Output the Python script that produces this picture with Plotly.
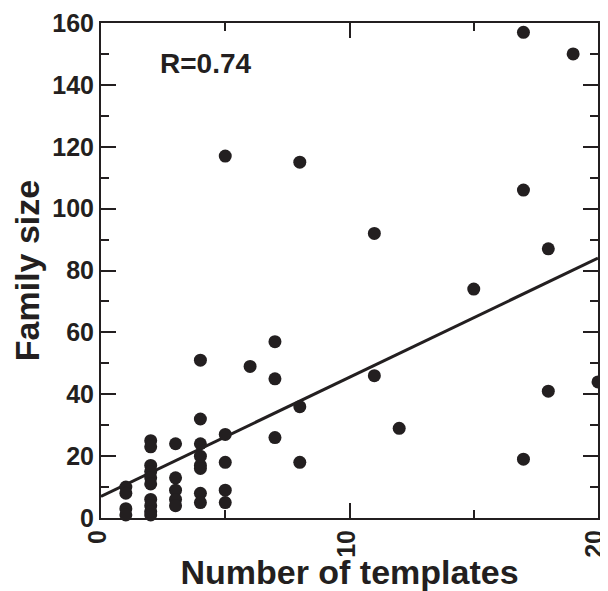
import plotly.graph_objects as go
import numpy as np

# number of templates per family (x) and family size (y)
templates = [1, 1, 1, 1,
             2, 2, 2, 2, 2, 2, 2, 2, 2, 2,
             3, 3, 3, 3, 3,
             4, 4, 4, 4, 4, 4, 4, 4,
             5, 5, 5, 5, 5,
             6, 7, 7, 7, 8, 8, 8,
             11, 11, 12, 15, 17, 17, 17, 18, 18, 19, 20]
family_size = [10, 8, 3, 1,
               25, 23, 17, 15, 13, 11, 6, 4, 2, 1,
               24, 13, 9, 6, 4,
               51, 32, 24, 20, 17, 8, 5, 16,
               117, 27, 18, 9, 5,
               49, 57, 45, 26, 115, 36, 18,
               92, 46, 29, 74, 157, 106, 19, 87, 41, 150, 44]

# regression line
fit_intercept = 7.0
fit_slope = 3.85
r_label = "R=0.74"

ink = "#231f20"
font_family = "Liberation Sans, Arial, Helvetica, sans-serif"

fit_x = np.array([0, 20])
fit_y = fit_intercept + fit_slope * fit_x

fig = go.Figure()
fig.add_trace(go.Scatter(x=fit_x, y=fit_y, mode="lines",
                         line=dict(color=ink, width=3), showlegend=False))
fig.add_trace(go.Scatter(x=templates, y=family_size, mode="markers",
                         marker=dict(color=ink, size=13, line=dict(width=0)),
                         cliponaxis=False, showlegend=False))

fig.add_annotation(x=4.2, y=147, text="<b>" + r_label + "</b>", showarrow=False,
                   font=dict(size=28, color=ink, family=font_family))

axis_common = dict(showgrid=False, zeroline=False, showline=True, linecolor=ink,
                   linewidth=2, mirror="ticks", ticks="inside", tickcolor=ink,
                   tickwidth=2, ticklen=15, automargin=False, ticklabeloverflow="allow",
                   tickfont=dict(size=25, color=ink, family=font_family))

fig.update_xaxes(range=[0, 20], dtick=10, tickangle=-90, ticklabelshift=-3,
                 minor=dict(dtick=5, ticks="inside", ticklen=8, tickcolor=ink, tickwidth=2),
                 title=dict(text="<b>Number of templates</b>", standoff=2,
                            font=dict(size=34, color=ink, family=font_family)),
                 tickprefix="<b>", ticksuffix="</b>", **axis_common)
fig.update_yaxes(range=[0, 160], dtick=20,
                 minor=dict(dtick=10, ticks="inside", ticklen=8, tickcolor=ink, tickwidth=2),
                 title=dict(text="<b>Family size</b>", standoff=8,
                            font=dict(size=34, color=ink, family=font_family)),
                 tickprefix="<b>", ticksuffix="</b>", **axis_common)

# the page body adds an 8 px offset, so the figure is 8 px smaller each way
fig.update_layout(width=600, height=583, plot_bgcolor="white", paper_bgcolor="white",
                  margin=dict(l=93, r=10, t=15, b=73))

fig.write_html("out.html")
